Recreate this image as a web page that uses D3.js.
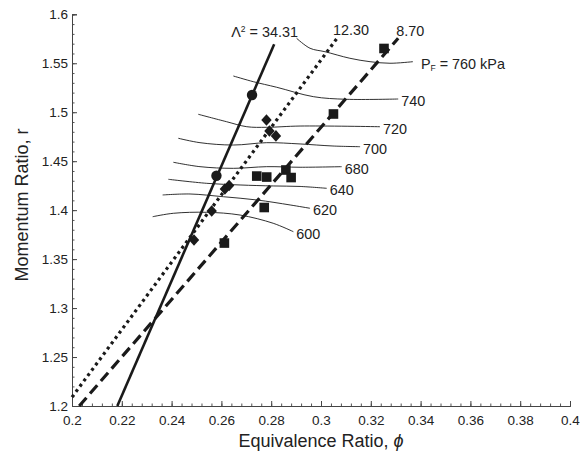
<!DOCTYPE html>
<html>
<head>
<meta charset="utf-8">
<script src="https://cdn.jsdelivr.net/npm/d3@7"></script>
<style>
  html, body { margin: 0; padding: 0; background: #fff; }
  svg { display: block; font-family: "Liberation Sans", Arial, sans-serif; }
</style>
</head>
<body>
<svg id="chart" width="583" height="454"></svg>
<script>
// ---------- data ----------
const xTicks = [0.2, 0.22, 0.24, 0.26, 0.28, 0.3, 0.32, 0.34, 0.36, 0.38, 0.4];
const yTicks = [1.2, 1.25, 1.3, 1.35, 1.4, 1.45, 1.5, 1.55, 1.6];
const xTickLabels = ["0.2", "0.22", "0.24", "0.26", "0.28", "0.3", "0.32", "0.34", "0.36", "0.38", "0.4"];
const yTickLabels = ["1.2", "1.25", "1.3", "1.35", "1.4", "1.45", "1.5", "1.55", "1.6"];

// Λ² lines (endpoints)
const lambdaNames = ["34.31", "12.30", "8.70"];
const lambdaLines = [
  [[0.2182, 1.2], [0.2812, 1.5694]],
  [[0.2, 1.2091], [0.3068, 1.5768]],
  [[0.2029, 1.2], [0.3310, 1.5755]]
];

// markers
const circlePts = [[0.2723, 1.5176], [0.2580, 1.4351]];
const diamondPts = [[0.2781, 1.4920], [0.2793, 1.4808], [0.2819, 1.4758], [0.2614, 1.4216],
                    [0.2631, 1.4251], [0.2561, 1.3991], [0.2490, 1.3695]];
const squarePts = [[0.3253, 1.5651], [0.3050, 1.4982], [0.2859, 1.4410], [0.2880, 1.4333],
                   [0.2742, 1.4348], [0.2782, 1.4338], [0.2772, 1.4027], [0.2612, 1.3664]];

// fuel-pressure contours (kPa)
const contourLevels = [760, 740, 720, 700, 680, 640, 620, 600];
const contour760 = [[0.2902, 1.5755], [0.2956, 1.5653], [0.3016, 1.5618], [0.3116, 1.5551], [0.3197, 1.5516], [0.3277, 1.5500], [0.3369, 1.5516]];
const contour740 = [[0.2648, 1.5370], [0.2728, 1.5312], [0.2822, 1.5255], [0.2969, 1.5159], [0.3103, 1.5132], [0.3310, 1.5135]];
const contour720 = [[0.2507, 1.4979], [0.2621, 1.4903], [0.2702, 1.4852], [0.2782, 1.4846], [0.2916, 1.4859], [0.3237, 1.4852]];
const contour700 = [[0.2427, 1.4734], [0.2514, 1.4689], [0.2648, 1.4665], [0.2782, 1.4689], [0.2916, 1.4676], [0.3048, 1.4655], [0.3157, 1.4648]];
const contour680 = [[0.2407, 1.4489], [0.2514, 1.4444], [0.2648, 1.4427], [0.2782, 1.4444], [0.2916, 1.4438], [0.3083, 1.4444]];
const contour640 = [[0.2387, 1.4315], [0.2541, 1.4274], [0.2675, 1.4257], [0.2808, 1.4247], [0.2916, 1.4242], [0.3023, 1.4223]];
const contour620 = [[0.2364, 1.4155], [0.2474, 1.4165], [0.2608, 1.4137], [0.2742, 1.4104], [0.2876, 1.4053], [0.2956, 1.4019]];
const contour600 = [[0.2324, 1.3933], [0.2407, 1.3968], [0.2541, 1.3978], [0.2675, 1.3950], [0.2808, 1.3866], [0.2889, 1.3780]];
const contours = [contour760, contour740, contour720, contour700, contour680, contour640, contour620, contour600];

// ---------- layout ----------
const svg = d3.select("#chart");
const margin = { left: 72, right: 13, top: 14.3, bottom: 48 };
const W = 583, H = 454;
const x = d3.scaleLinear().domain([0.2, 0.4]).range([margin.left, W - margin.right]);
const y = d3.scaleLinear().domain([1.2, 1.6]).range([H - margin.bottom, margin.top]);
const ink = "#1a1a1a";
const annFont = 14.4;

// minor ticks
const xMinor = d3.range(0.2, 0.4001, 0.004);
const yMinor = d3.range(1.2, 1.6001, 0.01);

const gx = svg.append("g").attr("transform", `translate(0,${y(1.2)})`);
gx.call(d3.axisBottom(x).tickValues(xMinor).tickSize(-2.5).tickFormat(""));
gx.call(g => g.selectAll(".tick line").attr("stroke", "#555"));
const gx2 = svg.append("g").attr("transform", `translate(0,${y(1.2)})`);
gx2.call(d3.axisBottom(x).tickValues(xTicks).tickSize(-5).tickPadding(9)
  .tickFormat((d, i) => xTickLabels[i]));
[gx, gx2].forEach(g => g.select(".domain").attr("stroke", "#444"));
gx2.selectAll(".tick line").attr("stroke", "#444");
gx2.selectAll(".tick text").attr("font-size", 13.5).attr("fill", "#222")
  .attr("font-family", "Liberation Sans, Arial, sans-serif");

const gy = svg.append("g").attr("transform", `translate(${x(0.2)},0)`);
gy.call(d3.axisLeft(y).tickValues(yMinor).tickSize(-2.5).tickFormat(""));
gy.selectAll(".tick line").attr("stroke", "#555");
const gy2 = svg.append("g").attr("transform", `translate(${x(0.2)},0)`);
gy2.call(d3.axisLeft(y).tickValues(yTicks).tickSize(-5).tickPadding(4)
  .tickFormat((d, i) => yTickLabels[i]));
[gy, gy2].forEach(g => g.select(".domain").attr("stroke", "#444"));
gy2.selectAll(".tick line").attr("stroke", "#444");
gy2.selectAll(".tick text").attr("font-size", 13.5).attr("fill", "#222")
  .attr("font-family", "Liberation Sans, Arial, sans-serif");

// axis titles
svg.append("text").attr("x", x(0.3)).attr("y", 447).attr("text-anchor", "middle")
  .attr("font-size", 18).attr("fill", "#222")
  .text("Equivalence Ratio, ").append("tspan").attr("font-style", "italic").text("ϕ");
svg.append("text").attr("transform", `translate(22,205) rotate(-90)`)
  .attr("text-anchor", "middle").attr("dominant-baseline", "central")
  .attr("font-size", 18).attr("fill", "#222").text("Momentum Ratio, r");

// contours
const lineGen = d3.line().x(d => x(d[0])).y(d => y(d[1])).curve(d3.curveCatmullRom.alpha(0.5));
const cg = svg.append("g");
contours.forEach((c, i) => {
  cg.append("path").attr("d", lineGen(c)).attr("fill", "none").attr("stroke", ink).attr("stroke-width", 0.9);
  const last = c[c.length - 1];
  const t = cg.append("text").attr("x", x(last[0]) + (i === 0 ? 8 : 3))
    .attr("y", y(last[1]) + 2).attr("dominant-baseline", "central")
    .attr("font-size", annFont).attr("fill", "#222");
  if (i === 0) {
    t.text("P");
    t.append("tspan").attr("font-size", 8.5).attr("dy", 4).text("F");
    t.append("tspan").attr("dy", -4).text(" = " + contourLevels[i] + " kPa");
  } else {
    t.text(contourLevels[i]);
  }
});

// lambda lines
const styles = [
  { w: 2.6, dash: null, cap: "butt" },
  { w: 3.2, dash: "3,3.6", cap: "butt" },
  { w: 3.2, dash: "11,5.5", cap: "butt" }
];
const straight = d3.line().x(d => x(d[0])).y(d => y(d[1]));
lambdaLines.forEach((l, i) => {
  svg.append("path").attr("d", straight(l)).attr("fill", "none")
    .attr("stroke", ink).attr("stroke-width", styles[i].w)
    .attr("stroke-dasharray", styles[i].dash).attr("stroke-linecap", styles[i].cap);
});

// lambda labels above line tops
const lab0 = svg.append("text").attr("x", x(lambdaLines[0][1][0]) - 43).attr("y", 36.5)
  .attr("font-size", annFont).attr("fill", "#222").text("Λ");
lab0.append("tspan").attr("font-size", 8.5).attr("dy", -5).text("2");
lab0.append("tspan").attr("dy", 5).text(" = " + lambdaNames[0]);
svg.append("text").attr("x", x(lambdaLines[1][1][0]) - 5).attr("y", 34.5)
  .attr("font-size", annFont).attr("fill", "#222").text(lambdaNames[1]);
svg.append("text").attr("x", x(lambdaLines[2][1][0]) - 2).attr("y", 35.5)
  .attr("font-size", annFont).attr("fill", "#222").text(lambdaNames[2]);

// markers
svg.append("g").selectAll("circle").data(circlePts).join("circle")
  .attr("cx", d => x(d[0])).attr("cy", d => y(d[1])).attr("r", 5.2).attr("fill", ink);
svg.append("g").selectAll("path").data(diamondPts).join("path")
  .attr("transform", d => `translate(${x(d[0])},${y(d[1])})`)
  .attr("d", "M0,-5.8L5.2,0L0,5.8L-5.2,0Z").attr("fill", ink);
svg.append("g").selectAll("rect").data(squarePts).join("rect")
  .attr("x", d => x(d[0]) - 4.8).attr("y", d => y(d[1]) - 4.8)
  .attr("width", 9.6).attr("height", 9.6).attr("fill", ink);
</script>
</body>
</html>
